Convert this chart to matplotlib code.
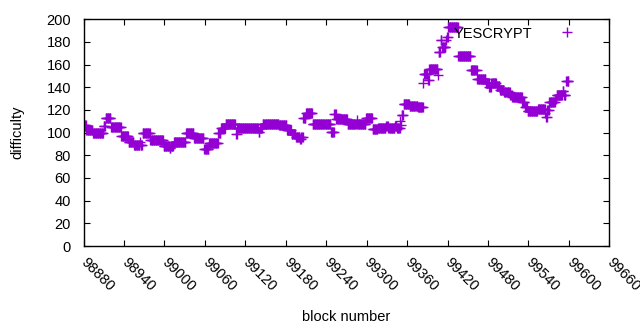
import numpy as np
import matplotlib
matplotlib.use('Agg')
from matplotlib import pyplot as plt

# difficulty per block, stored as runs: first block of each run and its value
run_start = [98880, 98884, 98894, 98910, 98913, 98921, 98936, 98947, 98955, 98964,
             98965, 98968, 98979, 98999, 99008, 99010, 99014, 99032, 99044, 99059,
             99066, 99080, 99084, 99091, 99106, 99108, 99140, 99142, 99146, 99164,
             99170, 99182, 99189, 99195, 99201, 99203, 99206, 99210, 99220, 99247,
             99252, 99255, 99272, 99286, 99287, 99299, 99309, 99317, 99329, 99332,
             99342, 99345, 99350, 99351, 99352, 99355, 99364, 99376, 99384, 99385,
             99391, 99393, 99406, 99407, 99410, 99412, 99418, 99419, 99421, 99436,
             99455, 99464, 99477, 99482, 99485, 99493, 99498, 99504, 99513, 99516,
             99531, 99535, 99539, 99554, 99565, 99566, 99568, 99571, 99580, 99582,
             99591, 99593, 99596]
run_value = [107, 102, 99.5, 106, 112.5, 105, 97, 92, 89.5, 92,
             89.5, 100, 93.5, 88.5, 86.5, 88.5, 91.5, 99.5, 95, 86,
             90.5, 99.5, 104, 108, 99, 104, 101, 104, 107.4, 108,
             106.5, 102, 99, 96.5, 94, 96.5, 113, 117, 107.4, 101,
             116.5, 112, 107.5, 111, 108, 112.5, 103, 104.5, 106, 104,
             106, 104.5, 110, 107, 115.5, 125, 123.5, 122.5, 143.5, 151.7,
             146.5, 156, 151, 171, 182, 176, 182, 184, 193, 167.5,
             155, 147, 143.5, 140.5, 143.5, 141, 138, 135.5, 133, 131.7,
             127, 123, 119.4, 120.6, 117, 113.5, 120, 127, 130, 133,
             137, 133, 145.5]
last_block = 99600

x_ticks = list(range(98880, 99661, 60))
y_ticks = list(range(0, 201, 20))

# expand the runs to one point per block
run_len = np.diff(run_start + [last_block])
blocks = np.arange(run_start[0], last_block)
difficulty = np.repeat(run_value, run_len)

plt.rcParams['font.family'] = ['Liberation Sans', 'DejaVu Sans']
plt.rcParams['font.size'] = 10.5

fig = plt.figure(figsize=(6.4, 3.3), dpi=100)
ax = fig.add_axes([83.5/640, 1 - 246/330, (609.3 - 83.5)/640, (246 - 19.3)/330])

ax.plot(blocks, difficulty, linestyle='none', marker='+', markersize=7,
        markeredgewidth=1, color='#9400d3', label='YESCRYPT')

ax.set_xlim(98880, 99660)
ax.set_ylim(0, 200)
ax.set_xticks(x_ticks)
ax.set_yticks(y_ticks)
ax.set_xticklabels([str(t) for t in x_ticks], rotation=-45, ha='left', va='center',
                   rotation_mode='anchor')
ax.tick_params(direction='in', length=4, width=0.8, top=True, right=True, color='black')
ax.tick_params(axis='x', pad=10)
ax.tick_params(axis='y', pad=9)
for s in ax.spines.values():
    s.set_linewidth(1)

ax.set_xlabel('block number', labelpad=12)
ax.set_ylabel('difficulty', labelpad=16)

ax.legend(loc='upper right', bbox_to_anchor=(1 - 7/525.8, 1), frameon=False,
          markerfirst=False, numpoints=1, handlelength=3.8, handletextpad=0.5,
          borderaxespad=0.3, borderpad=0.2)

fig.savefig('out.png', dpi=100)
